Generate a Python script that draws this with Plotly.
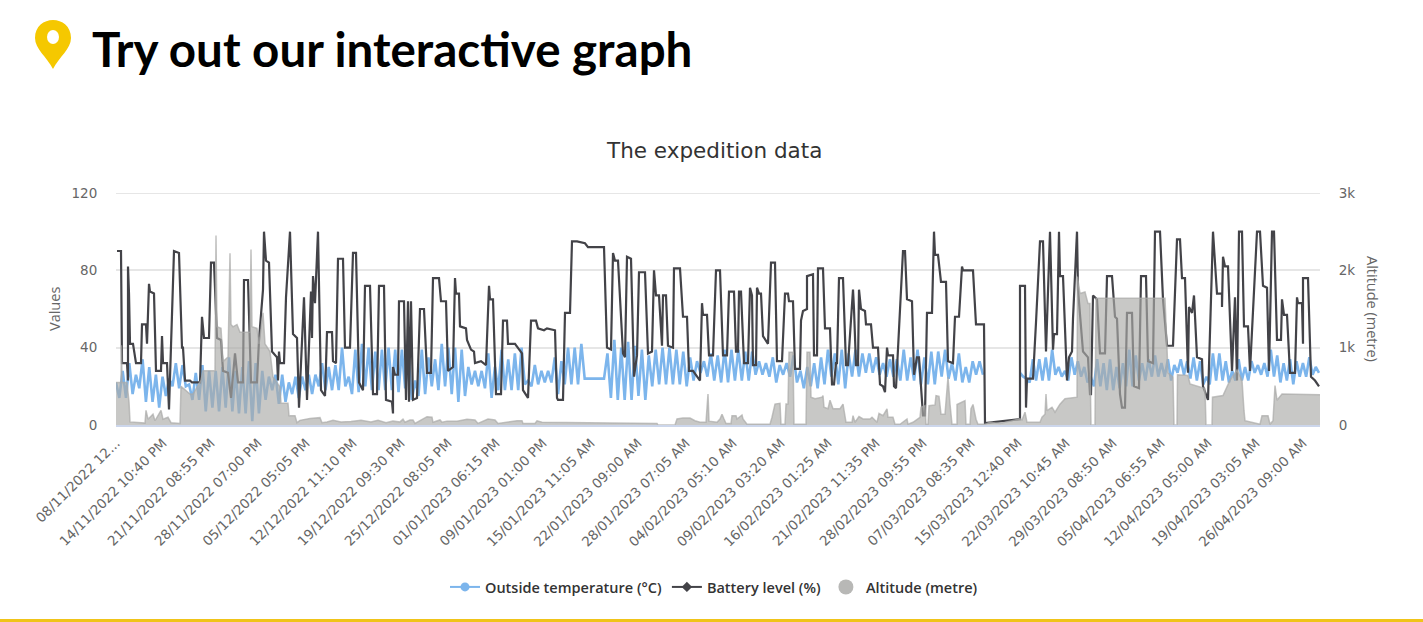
import numpy as np
import plotly.graph_objects as go

W, H = 1423, 622
L, R, T, B = 116, 1320, 193, 425

tick_labels = ["08/11/2022 12...", "14/11/2022 10:40 PM", "21/11/2022 08:55 PM", "28/11/2022 07:00 PM",
               "05/12/2022 05:05 PM", "12/12/2022 11:10 PM", "19/12/2022 09:30 PM", "25/12/2022 08:05 PM",
               "01/01/2023 06:15 PM", "09/01/2023 01:00 PM", "15/01/2023 11:05 AM", "22/01/2023 09:00 AM",
               "28/01/2023 07:05 AM", "04/02/2023 05:10 AM", "09/02/2023 03:20 AM", "16/02/2023 01:25 AM",
               "21/02/2023 11:35 PM", "28/02/2023 09:55 PM", "07/03/2023 08:35 PM", "15/03/2023 12:40 PM",
               "22/03/2023 10:45 AM", "29/03/2023 08:50 AM", "05/04/2023 06:55 AM", "12/04/2023 05:00 AM",
               "19/04/2023 03:05 AM", "26/04/2023 09:00 AM"]
tick_samples = [0, 47, 95, 142, 190, 237, 285, 332, 380, 427, 475, 522, 570, 617, 665, 712, 760, 807, 855,
                902, 950, 997, 1045, 1092, 1140, 1187]

# Battery level (%): (sample number, percent)
battery_points = [(1,90),(5,90),(6,32),(11,32),(12,23),(12,82),(13,68),(14,42),(17,42),(20,32),(25,32),(26,52),(30,52),(31,42),(33,73),(34,69),(38,68),(40,28),(45,28),(46,46),(47,32),(51,32),(53,8),(58,90),(63,89),(66,40),(67,40),(69,23),(74,23),(76,22),(84,22),(86,56),(88,45),(93,45),(95,84),(98,84),(101,45),(105,44),(107,28),(112,27),(115,14),(119,37),(122,22),(127,22),(128,75),(132,75),(135,22),(141,22),(143,44),(147,70),(148,100),(150,85),(153,84),(156,38),(161,35),(162,23),(163,38),(164,32),(168,32),(170,66),(174,100),(177,47),(181,45),(183,9),(188,66),(191,13),(195,69),(196,45),(197,77),(199,63),(202,100),(205,18),(209,15),(211,48),(216,48),(217,33),(220,32),(222,86),(227,86),(229,40),(234,40),(237,89),(240,89),(241,70),(243,22),(247,18),(249,72),(254,72),(257,16),(261,16),(263,72),(268,72),(270,13),(276,12),(277,6),(277,30),(279,26),(282,26),(283,64),
 (288,64),(290,13),(292,64),(293,12),(295,64),(297,13),(301,14),(304,60),(308,60),(311,27),(315,27),(317,76),(323,76),(325,64),(330,64),(332,28),(337,30),(339,76),(340,68),(343,68),(344,51),(350,50),(351,44),(355,39),(358,38),(359,32),(365,33),(370,31),(373,72),(374,65),(377,65),(380,16),(385,16),(387,54),(391,54),(392,42),(399,42),(406,37),(407,18),(412,14),(415,54),(420,54),(422,50),(428,49),(431,50),(439,49),(441,14),(442,13),(447,13),(449,58),(454,58),(456,95),(461,95),(469,94),(472,92),(488,92),(491,40),(495,39),(497,89),(499,85),(502,85),(507,37),(509,35),(511,87),(515,86),(518,25),(521,36),(523,79),(529,79),(532,37),(536,38),(538,80),(540,67),(543,67),(546,41),(547,67),(550,67),(552,41),(557,40),(558,81),(564,81),(567,56),(571,56),(573,28),(577,28),(584,23),
 (586,63),(587,57),(591,57),(593,36),(597,36),(600,80),(604,80),(607,36),(611,36),(613,69),(618,69),(620,38),(622,38),(623,69),(625,69),(628,32),(632,32),(634,71),(636,67),(637,31),(640,31),(641,71),(643,68),(645,68),(647,46),(652,42),(655,84),(659,84),(661,33),(666,33),(669,68),(672,68),(673,64),(677,64),(679,29),(684,29),(685,54),(687,59),(691,60),(691,77),(697,78),(698,36),(701,36),(702,81),(707,81),(709,50),(714,50),(716,21),(718,21),(720,32),(721,32),(723,76),(727,76),(730,31),(732,31),(737,70),(738,60),(740,31),(742,31),(743,70),(745,60),(749,59),(750,52),(755,52),(757,40),(762,40),(764,21),(767,20),(769,17),(771,40),(772,36),(777,36),(778,20),(780,19),(787,90),(789,90),(791,65),(796,64),(798,26),(801,35),(803,35),(806,9),(807,5),(809,5),(811,58),(816,58),(818,100),(819,88),(822,88),(825,74),(830,74),(832,33),(837,32),(839,56),(843,56),(846,82),(847,80),(857,80),(860,52),(868,52),(869,1),(904,3),
 (904,72),(909,72),(910,9),(911,24),(917,24),(920,53),(924,95),(927,95),(930,38),(934,100),(937,39),(938,47),(941,47),(943,100),(944,77),(947,77),(951,23),(953,35),(956,38),(957,55),(961,100),(962,70),(967,38),(972,35),(974,16),(975,16),(977,67),(981,65),(984,37),(989,37),(991,77),(996,77),(998,65),(999,56),(1001,55),(1004,16),(1006,9),(1009,9),(1011,58),(1016,58),(1018,20),(1023,19),(1025,77),(1030,77),(1032,33),(1037,32),(1039,100),(1044,100),(1047,65),(1051,41),(1057,41),(1060,91),(1061,96),(1064,96),(1066,76),(1069,76),(1072,27),(1073,61),(1076,58),(1078,67),(1081,35),(1086,34),(1087,20),(1092,13),(1097,100),(1101,68),(1106,68),(1106,61),(1107,87),(1109,82),(1112,82),(1116,28),(1119,66),(1121,23),(1123,100),(1126,100),(1128,51),(1132,51),(1134,28),(1141,100),(1144,100),(1147,72),(1151,71),(1153,28),(1156,100),(1158,100),(1161,44),(1165,44),(1166,65),(1168,57),(1171,57),(1174,27),(1179,27),(1181,66),(1182,63),(1186,63),(1187,42),(1187,76),(1192,76),(1195,25),(1199,23),(1203,20)]

# Altitude (metre): (sample number, metres)
altitude_points = [(0,550),(5,550),(5.5,1030),(6,550),(11,550),(13,300),(14,40),(29,25),(30,190),(32,75),(37,140),(39,55),(45,190),(47,75),(52,100),(55,30),(64,20),(65,500),(74,400),(77,400),(85,580),(87,700),(99,700),(100,2450),(101,1270),(105,1250),(107,820),(112,880),(114,2220),(115,1300),(117,1270),(121,1300),(124,1200),(134,1200),(135,2270),(136,1270),(141,1250),(143,1050),(147,1450),(149,1050),(154,950),(157,620),(164,490),(165,280),(172,280),(173,120),(179,120),(181,30),(184,60),(194,85),(204,95),(206,30),(211,40),(217,60),(225,40),(235,45),(245,60),(255,40),(262,60),(270,30),(277,50),(284,40),
 (287,75),(289,35),(294,65),(297,65),(299,20),(311,108),(316,100),(317,35),(324,65),(326,35),(331,50),(341,50),(351,75),(359,65),(362,20),(372,78),(379,65),(382,20),(401,55),(406,55),(407,20),(419,20),(421,55),(426,35),(541,20),(542,0),(559,0),(561,78),(567,90),(574,90),(579,55),(584,35),
 (590,35),(592,400),(593,50),(601,35),(604,78),(606,140),(608,78),(610,20),(615,20),(616,120),(620,120),(621,78),(626,130),(627,78),(631,10),(654,10),(656,100),(659,270),(664,280),(665,10),(669,10),(670,270),(672,270),(673,940),(677,940),(678,10),(690,10),(691,940),(694,940),(695,360),(699,340),(706,360),(707,380),(708,230),(712,210),(714,320),(717,210),(724,210),(727,270),(730,35),(736,35),(737,120),(739,35),(743,110),(747,78),(754,78),(756,100),(761,35),(763,150),(767,120),(771,210),(772,100),(777,100),(779,10),(784,10),(791,78),(792,10),(797,35),(804,100),(805,230),(809,250),(810,10),(812,10),(813,250),(819,260),(820,380),(823,370),(825,140),(829,140),(830,270),(832,620),(834,270),(836,10),(841,10),(841,265),(849,315),(850,10),(854,10),(855,210),(857,265),(860,75),(862,10),(869,10),(874,35),(884,20),
 (894,50),(901,65),(904,80),(906,65),(909,165),(911,35),(924,35),(926,100),(929,140),(930,400),(931,185),(936,230),(939,165),(944,270),(949,340),(961,360),(961.5,1920),(964,1700),(969,1720),(972,1570),(974,1570),(974.5,400),(975,0),(979,0),(980,1640),(1049,1640),(1051,1000),(1052,675),(1057,620),(1058,0),(1061,0),(1061.5,650),(1072,640),(1074,530),(1089,470),(1090,0),(1096,0),(1096.5,360),(1107,380),(1114,580),(1121,710),(1126,580),(1128,185),(1129,55),(1144,10),(1146,120),(1152,120),(1154,10),(1157,55),(1159,510),(1161,320),(1166,400),(1204,390)]

# Outside temperature (C): alternating daily high / low
temp_first = [22,14,28,14,32,16,26,19,34,12,30,12,26,9,25,15,24,20,32,19,31,20,21,13,27,13,31,7,28,9,28,7,30,9,35,7,28,6,30,6,33,2,32,6,28,13,25,18,26,11,26,12,22,16,25,14,25,18,26,16,26,20,32,18,30,18,31,18,40,20,25,16,39,17,42,20,40,18,38,18,39,18,40,18,39,17,
              39,19,37,13,23,15,39,16,35,20,34,18,42,20,40,16,40,12,39,15,30,21,28,20,28,19,37,14,30,18,39,18,34,18,37,18,40,21,23,20,31,21,28,22,28,22,35,16,33,21,40,21,40,21,42,24,24]
temp_second = [24,37,14,44,13,40,13,43,13,41,15,39,13,36,20,39,21,40,21,40,21,39,21,38,20,35,23,33,27,33,25,
               37,23,36,22,39,22,39,23,39,23,38,23,38,26,33,26,32,25,35,22,31,26,32,25,36,22,28,19,30,20,32,19,35,21,39,25,37,21,39,19,37,25,39,25,37,27,37,27,35,26,32,25,34,25,34,23,39,23,35,23,39,21,35,21,38,21,38,25,39,24,32,23,37,22,30,22,33,26,33,26]
temp_third = [27,25,24,22,34,23,34,23,35,23,39,26,30,25,28,23,35,26,33,25,30,22,25,20,34,20,32,18,34,18,30,19,32,20,39,20,36,23,32,23,34,25,36,25,32,25,34,23,31,27,34,26,33,24,
              35,23,33,21,25,21,37,23,37,23,33,22,28,23,34,23,30,23,33,27,31,26,32,25,39,25,36,22,32,23,34,21,33,25,32,25,35,26,30,27]

temp_x = list(np.linspace(0, 472, len(temp_first))) + [480] + list(np.linspace(488, 867, len(temp_second))) + [None] + list(np.linspace(904, 1203, len(temp_third)))
temp_y = temp_first + [24] + temp_second + [None] + temp_third

bat_x, bat_y = zip(*battery_points)
alt_x, alt_y = zip(*altitude_points)

BLUE, DARK, GREY = "#7cb5ec", "#434348", "#b8b8b6"
FONT = "Open Sans"
TICKFONT = dict(family="DejaVu Sans", size=13.5, color="#666")

fig = go.Figure()
fig.add_trace(go.Scatter(x=temp_x, y=temp_y, mode="lines", line=dict(color=BLUE, width=2.6), showlegend=False))
fig.add_trace(go.Scatter(x=bat_x, y=bat_y, mode="lines", line=dict(color=DARK, width=2.2), showlegend=False))
fig.add_trace(go.Scatter(x=alt_x, y=alt_y, yaxis="y2", mode="lines", fill="tozeroy",
                         line=dict(color="rgba(170,170,168,0.7)", width=1.5),
                         fillcolor="rgba(170,170,168,0.65)", showlegend=False))
# legend entries
fig.add_trace(go.Scatter(x=[None], y=[None], mode="lines+markers", name="Outside temperature (°C)",
                         line=dict(color=BLUE, width=2), marker=dict(color=BLUE, size=9)))
fig.add_trace(go.Scatter(x=[None], y=[None], mode="lines+markers", name="Battery level (%)",
                         line=dict(color=DARK, width=2), marker=dict(color=DARK, size=8, symbol="diamond")))
fig.add_trace(go.Scatter(x=[None], y=[None], mode="markers", name="Altitude (metre)",
                         marker=dict(color=GREY, size=15)))

def px(x): return (x - L) / (R - L)
def py(y): return (B - y) / (B - T)

pin = f"M {px(53)} {py(69)} C {px(47)} {py(57)} {px(35)} {py(49)} {px(35)} {py(38)} C {px(35)} {py(14)} {px(71)} {py(14)} {px(71)} {py(38)} C {px(71)} {py(49)} {px(59)} {py(57)} {px(53)} {py(69)} Z"

shapes = [
    dict(type="line", xref="paper", yref="y", x0=0, x1=1, y0=120, y1=120,
         line=dict(color="#e6e6e6", width=2), layer="below"),
    dict(type="path", xref="paper", yref="paper", path=pin, fillcolor="#f5c800", line=dict(width=0), layer="above"),
    dict(type="circle", xref="paper", yref="paper", x0=px(47), x1=px(59), y0=py(44), y1=py(30),
         fillcolor="white", line=dict(width=0), layer="above"),
    dict(type="line", xref="paper", yref="paper", x0=px(0), x1=px(W), y0=py(620.5), y1=py(620.5),
         line=dict(color="#f0c419", width=3)),
]

annotations = [
    dict(text="<b>Try out our interactive graph</b>", xref="paper", yref="paper", x=px(90), y=py(48),
         xanchor="left", yanchor="middle", showarrow=False, font=dict(family="Lato", size=47.5, color="#000")),
    dict(text="The expedition data", xref="paper", yref="paper", x=px(714), y=py(150), xanchor="center",
         yanchor="middle", showarrow=False, font=dict(family="DejaVu Sans", size=21.5, color="#333")),
    dict(text="Values", xref="paper", yref="paper", x=px(54), y=py(309), xanchor="center", yanchor="middle",
         textangle=-90, showarrow=False, font=dict(family=FONT, size=14.5, color="#666")),
    dict(text="Altitude (metre)", xref="paper", yref="paper", x=px(1373), y=py(309), xanchor="center",
         yanchor="middle", textangle=90, showarrow=False, font=dict(family=FONT, size=14.5, color="#666")),
]

fig.update_layout(
    width=W, height=H, margin=dict(l=L, r=W - R, t=T, b=H - B), paper_bgcolor="white", plot_bgcolor="white",
    font=dict(family=FONT, color="#666", size=12),
    shapes=shapes, annotations=annotations,
    xaxis=dict(range=[0, 1204], tickmode="array", tickvals=tick_samples, ticktext=tick_labels, tickangle=-45,
               showgrid=False, zeroline=False, showline=True, linecolor="#ccd6eb", linewidth=2, ticks="outside",
               ticklen=3, tickcolor="rgba(0,0,0,0)", tickfont=TICKFONT),
    yaxis=dict(range=[0, 120], tickvals=[0, 40, 80, 120], gridcolor="#e6e6e6", gridwidth=2, zeroline=False,
               showline=False, tickfont=TICKFONT, ticklen=15, ticks="outside", tickcolor="rgba(0,0,0,0)"),
    yaxis2=dict(range=[0, 3000], overlaying="y", side="right", tickvals=[0, 1000, 2000, 3000],
                ticktext=["0", "1k", "2k", "3k"], showgrid=False, zeroline=False, showline=False,
                tickfont=TICKFONT, ticklen=15, ticks="outside", tickcolor="rgba(0,0,0,0)"),
    legend=dict(orientation="h", x=px(714), y=py(587), xanchor="center", yanchor="middle",
                font=dict(family=FONT, size=14.5, color="#333", weight=600), bgcolor="rgba(0,0,0,0)",
                traceorder="normal", itemwidth=30),
)

fig.write_html("out.html", config={"displayModeBar": False},
               post_script="document.body.style.margin='0';document.body.style.overflow='hidden';")
